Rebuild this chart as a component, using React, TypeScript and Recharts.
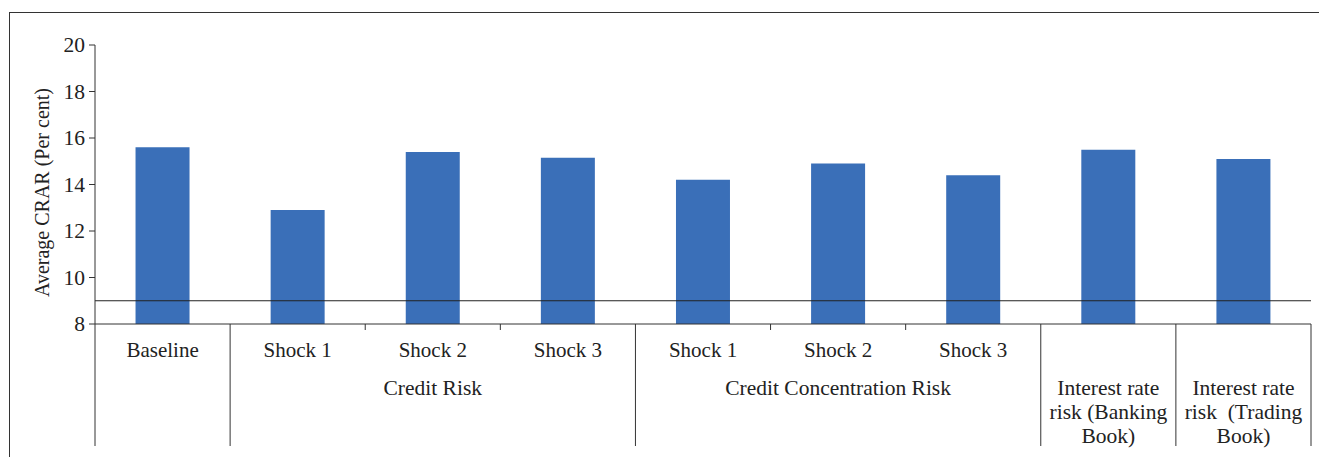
import React from 'react';
import { BarChart, Bar, XAxis, YAxis, ReferenceLine } from 'recharts';

const categories = ['Baseline', 'Shock 1', 'Shock 2', 'Shock 3', 'Shock 1', 'Shock 2', 'Shock 3', '', ''];
const groups = [
  '',
  'Credit Risk',
  'Credit Risk',
  'Credit Risk',
  'Credit Concentration Risk',
  'Credit Concentration Risk',
  'Credit Concentration Risk',
  'Interest rate\nrisk (Banking\nBook)',
  'Interest rate\nrisk  (Trading\nBook)',
];
const crarValues = [15.6, 12.9, 15.4, 15.15, 14.2, 14.9, 14.4, 15.5, 15.1];
const yTicks = [8, 10, 12, 14, 16, 18, 20];
const thresholdValue = 9;
const yLabel = 'Average CRAR (Per cent)';

const data = categories.map((c, i) => ({ id: `c${i}`, label: c, group: groups[i], value: crarValues[i] }));

const FONT = '"Liberation Serif", "Times New Roman", serif';
const TEXT = '#222';
const LINE = '#333';

const CategoryTick = (props: any) => {
  const { x, y, index, width } = props;
  const n = data.length;
  const bw = width / n;
  const i = index;
  const left = x - bw / 2;
  const right = x + bw / 2;
  const startsGroup = i === 0 || groups[i] !== groups[i - 1];
  let groupCount = 0;
  if (startsGroup) {
    let j = i;
    while (j < n && groups[j] === groups[i]) {
      groupCount++;
      j++;
    }
  }
  const groupCenter = left + (groupCount * bw) / 2;
  const lines = groups[i] ? groups[i].split('\n') : [];
  return (
    <g>
      {startsGroup ? (
        <line x1={left} x2={left} y1={y} y2={y + 122} stroke={LINE} strokeWidth={1} />
      ) : (
        <line x1={left} x2={left} y1={y} y2={y + 6} stroke={LINE} strokeWidth={1} />
      )}
      {i === n - 1 && <line x1={right} x2={right} y1={y} y2={y + 122} stroke={LINE} strokeWidth={1} />}
      {categories[i] && (
        <text x={x} y={y + 33} textAnchor="middle" fontFamily={FONT} fontSize={21} fill={TEXT}>
          {categories[i]}
        </text>
      )}
      {startsGroup &&
        lines.map((ln, k) => (
          <text
            key={k}
            x={groupCenter}
            y={y + 71 + k * 24}
            textAnchor="middle"
            fontFamily={FONT}
            fontSize={21.5}
            fill={TEXT}
            style={{ whiteSpace: 'pre' }}
          >
            {ln}
          </text>
        ))}
    </g>
  );
};

const ValueTick = (props: any) => {
  const { x, y, payload } = props;
  return (
    <text x={x} y={y} textAnchor="end" dominantBaseline="central" fontFamily={FONT} fontSize={21.5} fill={TEXT}>
      {payload.value}
    </text>
  );
};

const YLabel = (props: any) => {
  const { viewBox } = props;
  const cx = viewBox.x + 42;
  const cy = viewBox.y + viewBox.height / 2 + 8;
  return (
    <text
      x={cx}
      y={cy}
      transform={`rotate(-90, ${cx}, ${cy})`}
      textAnchor="middle"
      dominantBaseline="central"
      fontFamily={FONT}
      fontSize={20}
      fill={TEXT}
    >
      {yLabel}
    </text>
  );
};

export default function App() {
  return (
    <div style={{ position: 'absolute', left: 0, top: 0, width: 1319, height: 457, background: '#fff', overflow: 'hidden' }}>
      <div
        style={{
          position: 'absolute',
          left: 9,
          top: 12,
          width: 1400,
          height: 500,
          borderTop: '1.5px solid #333',
          borderLeft: '1.5px solid #333',
        }}
      />
      <div style={{ position: 'absolute', left: 0, top: 0 }}>
        <BarChart
          width={1319}
          height={457}
          data={data}
          margin={{ top: 45, right: 8, left: 0, bottom: 0 }}
          barCategoryGap="30%"
        >
          <XAxis
            dataKey="id"
            height={133}
            interval={0}
            tickSize={0}
            tickMargin={0}
            tickLine={false}
            axisLine={{ stroke: LINE, strokeWidth: 1 }}
            tick={<CategoryTick />}
          />
          <YAxis
            width={95}
            domain={[8, 20]}
            ticks={yTicks}
            interval={0}
            tickSize={6}
            tickMargin={4}
            axisLine={{ stroke: LINE, strokeWidth: 1 }}
            tickLine={{ stroke: LINE, strokeWidth: 1 }}
            tick={<ValueTick />}
            allowDataOverflow
            label={<YLabel />}
          />
          <Bar dataKey="value" fill="#3a6fb8" isAnimationActive={false} />
          <ReferenceLine y={thresholdValue} stroke="#222" strokeWidth={1.2} />
        </BarChart>
      </div>
    </div>
  );
}
